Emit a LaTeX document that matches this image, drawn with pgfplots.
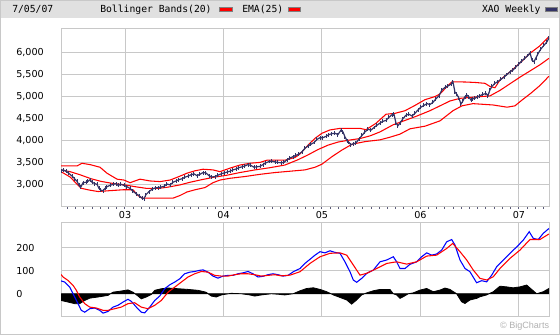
\documentclass[border=0pt]{standalone}
\usepackage{pgfplots}
\pgfplotsset{compat=1.18}
\usepackage{fontspec}
\setmainfont{DejaVu Sans}
\newfontfamily\monofont{DejaVu Sans Mono}
\newfontfamily\arialfont{Liberation Sans}
\definecolor{gridgray}{RGB}{200,200,200}
\definecolor{headgray}{RGB}{224,224,224}
\definecolor{navy}{RGB}{51,51,102}
\begin{document}
\begin{tikzpicture}
\path[use as bounding box] (0pt,0pt) rectangle (420pt,251.25pt);
% header
\fill[headgray] (0pt,237.5pt) rectangle (420pt,251.25pt);
\draw[gridgray, line width=0.75pt] (0pt,250.9pt) -- (420pt,250.9pt);
\draw[gridgray, line width=0.75pt] (0.375pt,0.375pt) rectangle (419.625pt,250.9pt);
\node[anchor=base west, inner sep=0pt, font=\monofont\fontsize{7.3}{8}\selectfont] at (9pt,241.7pt) {7/05/07};
\node[anchor=base west, inner sep=0pt, font=\monofont\fontsize{7.3}{8}\selectfont] at (75pt,241.7pt) {Bollinger Bands(20)};
\filldraw[fill=red, draw=gray, line width=0.5pt] (164.25pt,242.6pt) rectangle (174pt,245.6pt);
\node[anchor=base west, inner sep=0pt, font=\monofont\fontsize{7.3}{8}\selectfont] at (181.5pt,241.7pt) {EMA(25)};
\filldraw[fill=red, draw=gray, line width=0.5pt] (216.2pt,242.6pt) rectangle (225.5pt,245.6pt);
\node[anchor=base west, inner sep=0pt, font=\monofont\fontsize{7.3}{8}\selectfont] at (361.3pt,241.7pt) {XAO Weekly};
\filldraw[fill=navy, draw=gray, line width=0.5pt] (408.75pt,242.6pt) rectangle (418pt,245.6pt);
\node[anchor=base east, inner sep=0pt, text={rgb,255:red,176;green,176;blue,176}, font=\arialfont\fontsize{6.8}{8}\selectfont] at (412pt,4.7pt) {\textcopyright\ BigCharts};

\pgfplotsset{
  chartstyle/.style={
    scale only axis, anchor=south west,
    xmin=2002.35, xmax=2007.305,
    xtick={2003,2004,2005,2006,2007},
    grid=major,
    major grid style={draw=gridgray, line width=0.75pt},
    axis line style={draw=gridgray, line width=0.75pt},
    major tick length=0pt,
    tick label style={font=\fontsize{7.2}{8}\selectfont},
    /pgf/number format/assume math mode=true,
    /pgf/number format/1000 sep={,},
    scaled y ticks=false,
    yticklabel style={anchor=west, xshift=-33.75pt, inner xsep=0pt},
    clip=true,
  }
}

\begin{axis}[chartstyle,
  at={(45.75pt,96pt)}, width=366pt, height=133.5pt,
  ymin=2500, ymax=6530,
  ytick={3000,3500,4000,4500,5000,5500,6000},
  xticklabels={03,04,05,06,07},
  minor xtick={2002.41667,2002.5,...,2007.3},
  minor tick length=1.5pt,
  xtick pos=bottom, ytick pos=left,
  tick align=outside,
  minor tick style={draw={rgb,255:red,90;green,90;blue,120}, line width=0.75pt},
]
% upper Bollinger band
\addplot[red, line width=0.8pt] coordinates {
(2002.350,3430) (2002.513,3430) (2002.563,3490) (2002.645,3460) (2002.746,3400)
(2002.817,3265) (2002.919,3130) (2002.990,3110) (2003.051,3050) (2003.152,3130)
(2003.254,3090) (2003.355,3075) (2003.457,3110) (2003.538,3180) (2003.629,3265)
(2003.711,3320) (2003.792,3355) (2003.893,3340) (2003.964,3300) (2004.066,3380)
(2004.167,3450) (2004.269,3490) (2004.371,3510) (2004.442,3560) (2004.523,3560)
(2004.624,3560) (2004.726,3620) (2004.777,3700) (2004.858,3900) (2004.929,4055)
(2005.000,4170) (2005.081,4245) (2005.183,4280) (2005.284,4280) (2005.386,4280)
(2005.447,4250) (2005.548,4395) (2005.650,4600) (2005.741,4620) (2005.843,4680)
(2005.944,4800) (2006.046,4930) (2006.147,5000) (2006.198,5060) (2006.269,5225)
(2006.320,5335) (2006.452,5330) (2006.553,5320) (2006.655,5300) (2006.705,5230)
(2006.756,5200) (2006.807,5375) (2006.909,5560) (2007.010,5760) (2007.112,5980)
(2007.213,6150) (2007.304,6355)
};
% EMA(25)
\addplot[red, line width=0.8pt] coordinates {
(2002.350,3340) (2002.442,3300) (2002.543,3230) (2002.655,3140) (2002.756,3080)
(2002.858,3040) (2003.000,3000) (2003.102,2960) (2003.223,2920) (2003.335,2920)
(2003.437,2950) (2003.558,3000) (2003.660,3060) (2003.761,3110) (2003.893,3170)
(2004.036,3220) (2004.167,3280) (2004.320,3340) (2004.472,3390) (2004.624,3450)
(2004.756,3570) (2004.858,3680) (2004.959,3800) (2005.061,3900) (2005.162,3970)
(2005.264,4010) (2005.386,4050) (2005.487,4110) (2005.589,4200) (2005.721,4360)
(2005.843,4460) (2005.964,4560) (2006.096,4680) (2006.198,4790) (2006.299,4900)
(2006.401,4960) (2006.553,4990) (2006.705,5015) (2006.807,5140) (2006.909,5290)
(2007.010,5440) (2007.112,5580) (2007.213,5720) (2007.304,5865)
};
% lower Bollinger band
\addplot[red, line width=0.8pt] coordinates {
(2002.350,3300) (2002.442,3180) (2002.553,2925) (2002.645,2880) (2002.726,2850)
(2002.848,2870) (2002.980,2890) (2003.081,2890) (2003.132,2760) (2003.173,2700)
(2003.487,2700) (2003.558,2760) (2003.629,2840) (2003.711,2890) (2003.812,2940)
(2003.893,3050) (2003.964,3110) (2004.066,3150) (2004.218,3190) (2004.371,3240)
(2004.523,3280) (2004.675,3310) (2004.827,3340) (2004.929,3400) (2005.000,3470)
(2005.101,3640) (2005.203,3790) (2005.304,3920) (2005.436,3980) (2005.589,4020)
(2005.690,4080) (2005.792,4150) (2005.893,4270) (2006.046,4330) (2006.198,4450)
(2006.330,4680) (2006.421,4790) (2006.533,4840) (2006.736,4810) (2006.878,4760)
(2006.959,4790) (2007.030,4920) (2007.112,5060) (2007.213,5250) (2007.304,5460)
};
% XAO weekly (close with weekly range bars)
\addplot[navy, line width=0.9pt,
  error bars/.cd, y dir=both, y fixed=45,
  error mark=none, error bar style={navy, line width=0.75pt}] coordinates {
(2002.350,3320) (2002.371,3340) (2002.401,3310) (2002.431,3260) (2002.462,3200)
(2002.492,3130) (2002.513,3080) (2002.533,2990) (2002.553,2960) (2002.574,3050)
(2002.604,3060) (2002.624,3080) (2002.645,3120) (2002.665,3060) (2002.695,3030)
(2002.716,3010) (2002.736,2920) (2002.756,2880) (2002.777,2870) (2002.797,2920)
(2002.817,2960) (2002.848,2990) (2002.878,3010) (2002.909,3030) (2002.929,2990)
(2002.959,3010) (2002.990,2990) (2003.020,2960) (2003.051,2920) (2003.081,2860)
(2003.112,2800) (2003.142,2760) (2003.173,2700) (2003.193,2690) (2003.213,2780)
(2003.244,2850) (2003.274,2900) (2003.305,2930) (2003.335,2940) (2003.365,2950)
(2003.396,2970) (2003.426,3020) (2003.457,3000) (2003.487,3060) (2003.518,3090)
(2003.548,3120) (2003.579,3140) (2003.609,3175) (2003.640,3200) (2003.670,3230)
(2003.700,3250) (2003.731,3210) (2003.761,3240) (2003.792,3280) (2003.822,3270)
(2003.853,3210) (2003.883,3180) (2003.914,3190) (2003.944,3220) (2003.975,3250)
(2004.005,3270) (2004.036,3290) (2004.066,3310) (2004.096,3340) (2004.127,3360)
(2004.157,3390) (2004.188,3410) (2004.218,3430) (2004.249,3460) (2004.279,3440)
(2004.310,3400) (2004.340,3410) (2004.371,3420) (2004.401,3460) (2004.431,3500)
(2004.462,3530) (2004.492,3540) (2004.523,3520) (2004.553,3510) (2004.584,3500)
(2004.614,3510) (2004.645,3570) (2004.675,3610) (2004.706,3640) (2004.736,3670)
(2004.766,3700) (2004.797,3750) (2004.827,3830) (2004.858,3880) (2004.888,3920)
(2004.919,3960) (2004.949,4030) (2004.980,4070) (2005.010,4070) (2005.041,4100)
(2005.071,4140) (2005.101,4160) (2005.132,4170) (2005.162,4140) (2005.193,4240)
(2005.213,4200) (2005.233,4090) (2005.254,4000) (2005.274,3960) (2005.294,3910)
(2005.315,3930) (2005.345,3950) (2005.376,4040) (2005.406,4120) (2005.436,4200)
(2005.467,4260) (2005.497,4240) (2005.528,4300) (2005.558,4350) (2005.589,4400)
(2005.619,4440) (2005.650,4460) (2005.680,4530) (2005.711,4590) (2005.731,4600)
(2005.751,4400) (2005.771,4340) (2005.792,4400) (2005.822,4500) (2005.853,4580)
(2005.883,4600) (2005.914,4560) (2005.944,4620) (2005.975,4700) (2006.005,4760)
(2006.035,4800) (2006.066,4840) (2006.096,4820) (2006.127,4870) (2006.157,4950)
(2006.188,5020) (2006.218,5150) (2006.249,5210) (2006.279,5240) (2006.310,5280)
(2006.330,5330) (2006.350,5100) (2006.370,5050) (2006.391,4960) (2006.411,4830)
(2006.431,4900) (2006.452,5000) (2006.472,5030) (2006.492,4990) (2006.513,4920)
(2006.533,4950) (2006.553,4960) (2006.574,4990) (2006.604,5020) (2006.634,5050)
(2006.665,5070) (2006.685,5020) (2006.705,5150) (2006.726,5230) (2006.756,5300)
(2006.787,5340) (2006.817,5390) (2006.848,5440) (2006.878,5500) (2006.909,5560)
(2006.939,5600) (2006.969,5670) (2007.000,5740) (2007.030,5810) (2007.061,5870)
(2007.091,5930) (2007.112,5990) (2007.133,5820) (2007.153,5790) (2007.173,5880)
(2007.193,5970) (2007.223,6080) (2007.254,6160) (2007.284,6240) (2007.304,6330)
};
\end{axis}

\begin{axis}[chartstyle,
  at={(45.75pt,13.5pt)}, width=366pt, height=70.7pt,
  ymin=-101, ymax=309,
  ytick={0,100,200},
  xticklabels={},
]
% histogram
\addplot[fill=black, draw=black, line width=0.6pt] coordinates {
(2002.350,-29) (2002.421,-36) (2002.489,-43) (2002.540,-43) (2002.591,-29)
(2002.642,-19) (2002.726,-14) (2002.827,-7) (2002.878,7) (2002.962,12)
(2003.030,17) (2003.081,7) (2003.132,-10) (2003.165,-22) (2003.216,-14)
(2003.267,-3) (2003.302,15) (2003.369,22) (2003.437,25) (2003.538,22)
(2003.640,19) (2003.741,15) (2003.822,7) (2003.876,-10) (2003.927,-14)
(2003.978,-5) (2004.079,2) (2004.181,0) (2004.266,-5) (2004.317,-10)
(2004.384,-5) (2004.485,0) (2004.553,-2) (2004.621,-5) (2004.706,0)
(2004.777,13) (2004.845,23) (2004.912,26) (2004.980,19) (2005.048,9)
(2005.115,-5) (2005.183,-16) (2005.251,-27) (2005.301,-45) (2005.352,-27)
(2005.403,-5) (2005.454,4) (2005.521,13) (2005.589,19) (2005.690,19)
(2005.724,0) (2005.758,-5) (2005.792,-20) (2005.825,-13) (2005.876,0)
(2005.927,4) (2005.995,16) (2006.063,23) (2006.130,9) (2006.198,16)
(2006.249,25) (2006.299,19) (2006.367,0) (2006.418,-35) (2006.452,-42)
(2006.502,-27) (2006.570,-20) (2006.604,-13) (2006.672,-5) (2006.739,9)
(2006.807,33) (2006.875,30) (2006.942,26) (2007.010,30) (2007.078,38)
(2007.129,19) (2007.180,0) (2007.247,9) (2007.304,23)
} \closedcycle;
% MACD
\addplot[blue, line width=0.8pt] coordinates {
(2002.350,56) (2002.388,51) (2002.439,29) (2002.489,-14) (2002.523,-43)
(2002.556,-72) (2002.591,-80) (2002.642,-65) (2002.692,-62) (2002.743,-72)
(2002.777,-84) (2002.827,-77) (2002.878,-58) (2002.929,-50) (2002.980,-36)
(2003.030,-24) (2003.064,-33) (2003.115,-58) (2003.165,-80) (2003.200,-83)
(2003.251,-58) (2003.302,-29) (2003.352,-10) (2003.403,22) (2003.454,39)
(2003.505,51) (2003.555,65) (2003.606,87) (2003.657,94) (2003.708,97)
(2003.758,102) (2003.792,104) (2003.843,94) (2003.893,77) (2003.944,68)
(2003.995,77) (2004.046,80) (2004.096,80) (2004.147,87) (2004.198,91)
(2004.249,97) (2004.299,87) (2004.350,73) (2004.401,76) (2004.452,83)
(2004.502,87) (2004.553,83) (2004.604,77) (2004.655,80) (2004.709,96)
(2004.777,110) (2004.827,132) (2004.878,150) (2004.929,168) (2004.980,183)
(2005.030,178) (2005.081,187) (2005.132,180) (2005.183,176) (2005.233,139)
(2005.284,96) (2005.318,60) (2005.352,50) (2005.403,67) (2005.454,89)
(2005.521,103) (2005.589,139) (2005.657,147) (2005.724,161) (2005.758,139)
(2005.792,110) (2005.843,110) (2005.893,128) (2005.961,139) (2006.012,161)
(2006.063,178) (2006.114,168) (2006.164,173) (2006.215,190) (2006.266,226)
(2006.317,236) (2006.350,212) (2006.401,147) (2006.452,110) (2006.502,96)
(2006.570,48) (2006.621,57) (2006.672,52) (2006.723,81) (2006.773,117)
(2006.841,147) (2006.909,176) (2006.977,204) (2007.043,233) (2007.104,270)
(2007.145,241) (2007.196,236) (2007.247,263) (2007.304,284)
};
% signal
\addplot[red, line width=0.8pt] coordinates {
(2002.350,84) (2002.371,73) (2002.421,58) (2002.472,37) (2002.506,15)
(2002.540,-14) (2002.591,-43) (2002.642,-58) (2002.709,-62) (2002.777,-72)
(2002.827,-72) (2002.895,-65) (2002.962,-58) (2003.030,-43) (2003.098,-39)
(2003.165,-58) (2003.233,-65) (2003.302,-50) (2003.369,-29) (2003.437,7)
(2003.505,29) (2003.572,51) (2003.640,73) (2003.708,87) (2003.775,97)
(2003.843,94) (2003.911,80) (2003.978,77) (2004.046,77) (2004.114,83)
(2004.181,87) (2004.249,87) (2004.317,83) (2004.384,77) (2004.452,80)
(2004.520,83) (2004.587,78) (2004.675,81) (2004.777,96) (2004.878,132)
(2004.980,161) (2005.081,176) (2005.183,178) (2005.251,168) (2005.318,125)
(2005.386,81) (2005.454,89) (2005.555,110) (2005.657,132) (2005.758,139)
(2005.860,129) (2005.961,139) (2006.063,164) (2006.164,168) (2006.266,197)
(2006.327,219) (2006.401,183) (2006.469,147) (2006.536,103) (2006.604,67)
(2006.672,60) (2006.739,74) (2006.807,110) (2006.909,154) (2007.010,190)
(2007.112,236) (2007.213,236) (2007.304,260)
};
\end{axis}
\end{tikzpicture}
\end{document}
